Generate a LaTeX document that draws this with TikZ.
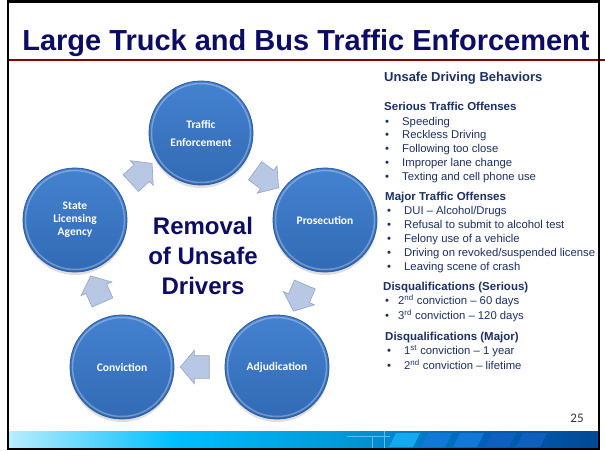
\documentclass[tikz,border=0pt]{standalone}
\usepackage{fontspec}
\setmainfont{Liberation Sans}
\newfontfamily\calibri{Carlito}
\usetikzlibrary{shapes.arrows, shadows, calc}

\definecolor{titlenavy}{RGB}{12,12,100}
\definecolor{textnavy}{RGB}{28,48,102}
\definecolor{rulered}{RGB}{140,0,0}
\definecolor{stagetop}{RGB}{68,130,208}
\definecolor{stagebot}{RGB}{50,106,180}
\definecolor{stagerim}{RGB}{44,90,156}
\definecolor{arrowfill}{RGB}{184,200,228}
\definecolor{arrowedge}{RGB}{146,164,198}
\definecolor{pagegray}{RGB}{50,50,50}
\definecolor{stripeA}{RGB}{20,170,240}
\definecolor{stripeB}{RGB}{18,120,215}
\definecolor{stripeC}{RGB}{15,95,190}
\definecolor{motifline}{RGB}{90,190,240}

\pgfdeclarehorizontalshading{bandshade}{100bp}{
  rgb(0bp)=(0.62,0.89,0.97);
  rgb(22bp)=(0.88,0.97,0.99);
  rgb(39bp)=(0,0.75,1);
  rgb(54bp)=(0,0.59,0.84);
  rgb(65bp)=(0,0.38,0.72);
  rgb(82bp)=(0,0.22,0.50);
  rgb(100bp)=(0.03,0.05,0.14)}

\begin{document}
\begin{tikzpicture}[x=1pt, y=-1pt, font=\small,
  stage/.style={circle, minimum size=104pt, inner sep=0pt, draw=stagerim, line width=0.8pt,
    top color=stagetop, bottom color=stagebot, text=white, align=center,
    font=\calibri\bfseries\fontsize{11.5}{13}\selectfont,
    drop shadow={opacity=0.25, shadow xshift=0pt, shadow yshift=-3pt},
    path picture={\draw[white, opacity=0.3, line width=1.5pt]
      (path picture bounding box.center) circle (49.5pt);}},
  cyclearrow/.style={single arrow, draw=arrowedge, fill=arrowfill, line width=0.6pt,
    minimum height=29pt, inner xsep=0pt, inner ysep=11pt,
    single arrow head extend=5.5pt, single arrow tip angle=100},
  head/.style={anchor=base west, inner sep=0pt, text=textnavy,
    font=\bfseries\fontsize{11.5}{13}\selectfont},
  listitem/.style={anchor=base west, inner sep=0pt, text=textnavy,
    font=\fontsize{11.3}{13}\selectfont}]

\useasboundingbox[fill=white] (0,0) rectangle (605,450);

% Title and rule
\node[anchor=base, font=\fontsize{29}{34}\selectfont\bfseries, text=titlenavy] (title) at (306,50)
  {Large Truck and Bus Traffic Enforcement};
\draw[rulered, line width=2pt] (8,60) -- (605,60);

% CYCLE

% Stages
\node[stage] (te) at (201,133) {Traffic\\[5pt]Enforcement};
\node[stage] (pr) at (325,220) {Prosecution};
\node[stage] (ad) at (277,367) {Adjudication};
\node[stage] (co) at (122,367) {Conviction};
\node[stage] (sla) at (75,220) {State\\Licensing\\Agency};

% Block arrows between stages
\node[cyclearrow, rotate=43] (a1) at ($(sla)!0.5!(te)$) {};
\node[cyclearrow, rotate=-36] (a2) at ($(te)!0.5!(pr)$) {};
\node[cyclearrow, rotate=-113] (a3) at ($(pr)!0.5!(ad)$) {};
\node[cyclearrow, rotate=180] (a4) at ($(ad)!0.5!(co)$) {};
\node[cyclearrow, rotate=114] (a5) at ($(co)!0.5!(sla)$) {};

% Centre label
\node[align=center, font=\fontsize{24}{30}\selectfont\bfseries, text=titlenavy] (removal) at (203,256)
  {Removal\\of Unsafe\\Drivers};

% BEHAVIOURS LIST

\node[head, font=\bfseries\fontsize{13}{15}\selectfont] (unsafe) at (384,81) {Unsafe Driving Behaviors};

% Serious offenses
\node[head] (serious) at (384,110) {Serious Traffic Offenses};
\node[listitem] (s1) at (385,125) {\makebox[17pt][l]{\textbullet}Speeding};
\node[listitem] (s2) at (385,138) {\makebox[17pt][l]{\textbullet}Reckless Driving};
\node[listitem] (s3) at (385,152) {\makebox[17pt][l]{\textbullet}Following too close};
\node[listitem] (s4) at (385,166) {\makebox[17pt][l]{\textbullet}Improper lane change};
\node[listitem] (s5) at (385,180) {\makebox[17pt][l]{\textbullet}Texting and cell phone use};

% Major offenses
\node[head] (major) at (385,200) {Major Traffic Offenses};
\node[listitem] (m1) at (387,214) {\makebox[17pt][l]{\textbullet}DUI – Alcohol/Drugs};
\node[listitem] (m2) at (387,228) {\makebox[17pt][l]{\textbullet}Refusal to submit to alcohol test};
\node[listitem] (m3) at (387,242) {\makebox[17pt][l]{\textbullet}Felony use of a vehicle};
\node[listitem] (m4) at (387,256) {\makebox[17pt][l]{\textbullet}Driving on revoked/suspended license};
\node[listitem] (m5) at (387,270) {\makebox[17pt][l]{\textbullet}Leaving scene of crash};

% Disqualifications
\node[head] (dqserious) at (383,290) {Disqualifications (Serious)};
\node[listitem] (d1) at (385,304) {\makebox[13pt][l]{\textbullet}2\textsuperscript{nd} conviction – 60 days};
\node[listitem] (d2) at (385,319) {\makebox[13pt][l]{\textbullet}3\textsuperscript{rd} conviction – 120 days};
\node[head] (dqmajor) at (385,340) {Disqualifications (Major)};
\node[listitem] (d3) at (387,354) {\makebox[17pt][l]{\textbullet}1\textsuperscript{st} conviction – 1 year};
\node[listitem] (d4) at (387,369) {\makebox[17pt][l]{\textbullet}2\textsuperscript{nd} conviction – lifetime};

% Page number
\node[font=\calibri\fontsize{13}{15}\selectfont, text=pagegray] (pagenum) at (577,418) {25};

% FOOTER BAND
\shade[shading=bandshade] (9,431) rectangle (598,448);
\draw[motifline, line width=0.6pt] (347,436) -- (390,436) (372,436) -- (372,448) (384,431) -- (384,448);
\fill[stripeA] (396,433) -- (420,433) -- (413,447) -- (389,447) -- cycle;
\fill[stripeB] (428,433) -- (452,433) -- (445,447) -- (421,447) -- cycle;
\fill[stripeB] (460,433) -- (484,433) -- (477,447) -- (453,447) -- cycle;
\fill[stripeC] (492,433) -- (516,433) -- (509,447) -- (485,447) -- cycle;
\fill[stripeC] (523,433) -- (547,433) -- (540,447) -- (516,447) -- cycle;

% Frame
\draw[black, line width=2.2pt] (8,1.5) rectangle (599,449);

\end{tikzpicture}
\end{document}
